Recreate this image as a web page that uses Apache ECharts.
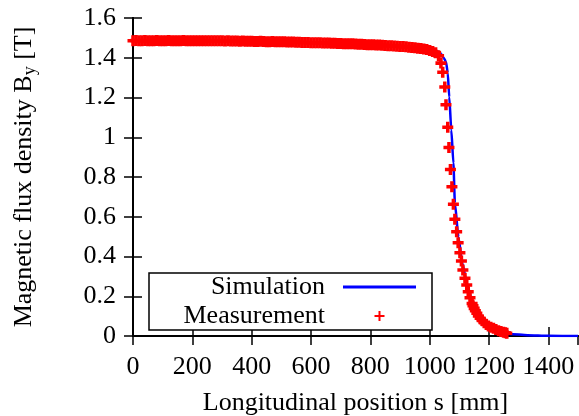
<!DOCTYPE html>
<html>
<head>
<meta charset="utf-8">
<script src="https://cdn.jsdelivr.net/npm/echarts@6/dist/echarts.min.js"></script>
<style>
  html, body { margin: 0; padding: 0; background: #fff; }
  #chart { width: 579px; height: 416px; }
</style>
</head>
<body>
<div id="chart"></div>
<script>
// simulation curve (position in mm, flux density in T)
const simS = [0, 100, 200, 300, 400, 500, 600, 700, 800, 900, 950, 1000, 1030, 1040, 1047, 1055, 1061, 1066, 1073, 1080,
  1085, 1097, 1110, 1125, 1142, 1164, 1192, 1226, 1271, 1330, 1400, 1500]
const simB = [1.485, 1.486, 1.486, 1.485, 1.484, 1.481, 1.477, 1.472, 1.465, 1.455, 1.448, 1.44, 1.43, 1.418, 1.40, 1.38,
  1.323, 1.202, 1.036, 0.870, 0.669, 0.498, 0.367, 0.267, 0.181, 0.116, 0.065, 0.030, 0.010, 0.004, 0.001, 0]

// measured points
const measS = [
  0, 10, 20, 30, 40, 50, 60, 70, 80, 90, 100, 110, 120, 130, 140, 150, 160, 170, 180, 190,
  200, 210, 220, 230, 240, 250, 260, 270, 280, 290, 300, 310, 320, 330, 340, 350, 360, 370, 380, 390,
  400, 410, 420, 430, 440, 450, 460, 470, 480, 490, 500, 510, 520, 530, 540, 550, 560, 570, 580, 590,
  600, 610, 620, 630, 640, 650, 660, 670, 680, 690, 700, 710, 720, 730, 740, 750, 760, 770, 780, 790,
  800, 810, 820, 830, 840, 850, 860, 870, 880, 890, 900, 910, 920, 930, 940, 950, 960, 970, 980, 990,
  1000, 1010, 1020, 1030, 1038, 1044, 1051, 1055, 1061, 1065, 1070, 1075, 1080, 1085, 1091, 1096, 1102, 1107, 1112, 1119,
  1125, 1130, 1136, 1143, 1146, 1150, 1154, 1159, 1164, 1170, 1177, 1184, 1191, 1198, 1206, 1215, 1223, 1232, 1240, 1249,
  1255, 1260
]
const measB = [
  1.486, 1.487, 1.486, 1.486, 1.487, 1.486, 1.485, 1.486, 1.487, 1.486, 1.486, 1.486, 1.487, 1.486, 1.485, 1.486, 1.486, 1.487, 1.486, 1.486,
  1.485, 1.486, 1.486, 1.485, 1.486, 1.485, 1.485, 1.486, 1.485, 1.485, 1.485, 1.484, 1.485, 1.484, 1.484, 1.484, 1.483, 1.484, 1.483, 1.483,
  1.483, 1.482, 1.482, 1.483, 1.482, 1.481, 1.481, 1.482, 1.481, 1.480, 1.480, 1.480, 1.479, 1.479, 1.479, 1.478, 1.478, 1.477, 1.477, 1.477,
  1.476, 1.476, 1.475, 1.475, 1.474, 1.474, 1.474, 1.473, 1.473, 1.472, 1.472, 1.471, 1.471, 1.470, 1.470, 1.469, 1.468, 1.468, 1.467, 1.466,
  1.466, 1.465, 1.464, 1.464, 1.463, 1.462, 1.461, 1.460, 1.459, 1.458, 1.457, 1.456, 1.455, 1.453, 1.452, 1.450, 1.448, 1.446, 1.444, 1.441,
  1.437, 1.432, 1.425, 1.410, 1.373, 1.327, 1.253, 1.164, 1.05, 0.949, 0.838, 0.751, 0.663, 0.587, 0.525, 0.469, 0.419, 0.377, 0.332, 0.29,
  0.257, 0.223, 0.193, 0.164, 0.152, 0.139, 0.127, 0.114, 0.101, 0.089, 0.078, 0.067, 0.058, 0.05, 0.044, 0.039, 0.033, 0.027, 0.023, 0.019,
  0.016, 0.014
]

const xTicks = { min: 0, max: 1500, interval: 200 }
const yTicks = { min: 0, max: 1.6, interval: 0.2 }

const font = 'Liberation Serif'
const plusMark = 'path://M3.4,0H6.6V3.4H10V6.6H6.6V10H3.4V6.6H0V3.4H3.4Z'
const plusIcon = 'path://M4,0H6V4H10V6H6V10H4V6H0V4H4Z'
const lineIcon = 'path://M0,0H100V4H0Z'

const chart = echarts.init(document.getElementById('chart'))

const tickStyle = { inside: true, length: 9, lineStyle: { color: '#000', width: 1.5 } }
const lineStyle = { lineStyle: { color: '#000', width: 2 } }

chart.setOption({
  animation: false,
  grid: { left: 133, top: 18, right: 1, bottom: 80, outerBoundsMode: 'none' },
  legend: {
    orient: 'vertical',
    left: 149,
    top: 273,
    align: 'right',
    itemWidth: 73,
    itemHeight: 10,
    itemGap: 3,
    padding: [1, 16, 1, 5],
    borderColor: '#000',
    borderWidth: 1.5,
    backgroundColor: '#fff',
    textStyle: {
      fontFamily: font, fontSize: 26, color: '#000', width: 171, align: 'right',
      lineHeight: 24, padding: [0, 13, 0, 0]
    },
    data: [
      { name: 'Simulation', icon: lineIcon, itemStyle: { color: '#0000ff' } },
      { name: 'Measurement', icon: plusIcon, itemStyle: { color: '#ff0000' } }
    ]
  },
  xAxis: [
    {
      type: 'value', ...xTicks, position: 'bottom',
      name: 'Longitudinal position s [mm]', nameLocation: 'middle', nameGap: 54,
      nameTextStyle: { fontFamily: font, fontSize: 26, color: '#000' },
      axisLine: lineStyle, axisTick: tickStyle, splitLine: { show: false },
      axisLabel: { fontFamily: font, fontSize: 26, color: '#000', margin: 18, showMaxLabel: false,
        formatter: (v) => String(v) }
    },
    {
      type: 'value', ...xTicks, position: 'top',
      axisLine: lineStyle, axisTick: tickStyle, splitLine: { show: false }, axisLabel: { show: false }
    }
  ],
  yAxis: [
    {
      type: 'value', ...yTicks, position: 'left',
      name: '{n|Magnetic flux density B}{s|y}{n| [T]}', nameLocation: 'middle', nameGap: 94,
      nameTextStyle: {
        rich: {
          n: { fontFamily: font, fontSize: 26, color: '#000', lineHeight: 30 },
          s: { fontFamily: font, fontSize: 18, color: '#000', lineHeight: 14, verticalAlign: 'bottom' }
        }
      },
      axisLine: lineStyle, axisTick: tickStyle, splitLine: { show: false },
      axisLabel: { fontFamily: font, fontSize: 26, color: '#000', margin: 17 }
    },
    {
      type: 'value', ...yTicks, position: 'right',
      axisLine: lineStyle, axisTick: tickStyle, splitLine: { show: false }, axisLabel: { show: false }
    }
  ],
  series: [
    {
      name: 'Simulation',
      type: 'line',
      z: 2,
      data: simS.map((s, i) => [s, simB[i]]),
      showSymbol: false,
      smooth: 0.2,
      smoothMonotone: 'x',
      lineStyle: { color: '#0000ff', width: 2.5 },
      itemStyle: { color: '#0000ff' }
    },
    {
      name: 'Measurement',
      type: 'scatter',
      z: 3,
      data: measS.map((s, i) => [s, measB[i]]),
      symbol: plusMark,
      symbolSize: 11,
      itemStyle: { color: '#ff0000', opacity: 1 }
    }
  ]
})
</script>
</body>
</html>
